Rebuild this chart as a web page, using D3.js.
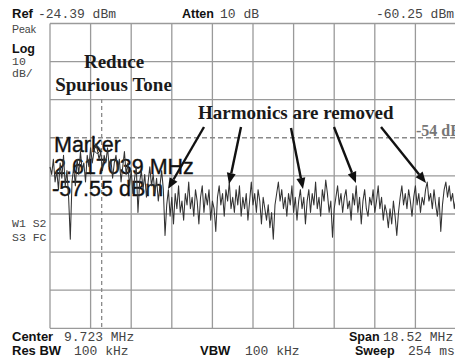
<!DOCTYPE html>
<html><head><meta charset="utf-8">
<script src="https://cdn.jsdelivr.net/npm/d3@7"></script>
<style>body{margin:0;background:#fff}svg{display:block}</style>
</head><body><svg id="c" width="455" height="362"></svg>
<script>
// ---- data ----
const refLevelDbm = -24.39;
const dbPerDiv = 10;
const yDivisions = 8;
const centerMHz = 9.723;
const spanMHz = 18.52;
const xDivisions = 10;
const displayLineDbm = -54.39;
const markerMHz = 2.617039;
const markerDbm = -57.55;
const markerLineMHz = 2.82;
const traceDbm = [
 -62,-64,-60,-66,-63,-68,-61,-65,-59,-67,-63,-70,-81,-66,-62,-67,-60,-64,-58,-63,
 -61,-66,-59,-62,-57,-61,-58,-56,-57.55,-60,-58,-63,-59,-61,-57,-62,-60,-65,-61,-59,
 -63,-60,-66,-62,-58,-64,-61,-67,-63,-69,-65,-62,-74,-66,-63,-68,-64,-70,-66,-62,
 -67,-64,-69,-65,-71,-67,-63,-68,-80,-72,-68,-75,-70,-77,-69,-73,-67,-74,-71,-76,
 -69,-72,-66,-73,-70,-75,-68,-71,-77,-70,-67,-74,-69,-72,-68,-76,-71,-73,-79,-70,
 -67,-72,-69,-75,-68,-71,-66,-73,-70,-74,-68,-72,-67,-75,-70,-73,-69,-76,-71,-66,
 -72,-69,-74,-68,-71,-77,-70,-73,-76,-72,-78,-74,-81,-72,-69,-66,-71,-68,-73,-70,
 -75,-69,-72,-67,-74,-70,-76,-71,-68,-73,-70,-77,-71,-68,-74,-69,-72,-66,-73,-70,
 -75,-68,-71,-65.5,-69,-74,-71,-80.5,-73,-70,-67,-72,-69,-74,-70,-68,-73,-71,-76,-69,
 -72,-67,-74,-70,-77,-71,-68,-73,-75,-70,-72,-68,-74,-71,-67,-73,-70,-76,-72,-74,
 -78,-73,-77,-71,-75,-80,-74,-70,-67,-72,-69,-73,-68,-71,-75,-70,-67,-72,-69,-74,
 -70,-72,-68,-66,-71,-69,-73,-68,-72,-75,-70,-79,-72,-68,-66,-70,-67,-71,-69,-73,-70
];
const topLabels = ["Ref", "-24.39 dBm", "Atten", "10 dB", "-60.25 dBm"];
const sideLabels = ["Peak", "Log", "10", "dB/", "W1 S2", "S3 FC"];
const bottomLabels = ["Center", "9.723 MHz", "Res BW", "100 kHz", "VBW", "100 kHz", "Span", "18.52 MHz", "Sweep", "254 ms"];
const annotations = ["Reduce", "Spurious Tone", "Harmonics are removed", "-54 dB"];
const markerLines = ["Marker", "2.617039 MHz", "-57.55 dBm"];

// ---- drawing ----
const svg = d3.select("#c");
svg.append("rect").attr("width",455).attr("height",362).attr("fill","#fff");
const L = 50, R = 456, T = 23.5, B = 328.3;
const startMHz = centerMHz - spanMHz/2, stopMHz = centerMHz + spanMHz/2;
const x = d3.scaleLinear().domain([startMHz, stopMHz]).range([L, R]);
const y = d3.scaleLinear().domain([refLevelDbm - dbPerDiv*yDivisions, refLevelDbm]).range([B, T]);

const SANS = "'Liberation Sans', Arial, sans-serif";
const MONO = "'Liberation Mono', 'Courier New', monospace";
const SERIF = "'Liberation Serif', 'Times New Roman', serif";

// grid
const g = svg.append("g");
const xt = d3.range(xDivisions+1).map(i => startMHz + i*spanMHz/xDivisions);
const yt = d3.range(yDivisions+1).map(i => refLevelDbm - i*dbPerDiv);
g.selectAll(".vx").data(xt).join("line")
  .attr("x1", d=>x(d)).attr("x2", d=>x(d)).attr("y1", T).attr("y2", B)
  .attr("stroke", "#9a9a9a").attr("stroke-width", 1.3);
g.selectAll(".hy").data(yt.filter(v => Math.abs(v - displayLineDbm) > 0.5)).join("line")
  .attr("x1", L).attr("x2", R).attr("y1", d=>y(d)).attr("y2", d=>y(d))
  .attr("stroke", "#9a9a9a").attr("stroke-width", 1.3);

// display line
svg.append("line").attr("x1", L).attr("x2", R)
  .attr("y1", y(displayLineDbm)).attr("y2", y(displayLineDbm))
  .attr("stroke", "#8a8a8a").attr("stroke-width", 1.4).attr("stroke-dasharray", "5,3");

// marker dashed vertical
svg.append("line").attr("x1", x(markerLineMHz)).attr("x2", x(markerLineMHz))
  .attr("y1", 99).attr("y2", B)
  .attr("stroke", "#8a8a8a").attr("stroke-width", 1.3).attr("stroke-dasharray", "4,3");

function txt(s, px, py, font, size, weight, fill) {
  return svg.append("text").attr("x", px).attr("y", py).text(s)
    .attr("font-family", font).attr("font-size", size).attr("font-weight", weight||"normal")
    .attr("fill", fill||"#222");
}
txt(topLabels[0], 12, 18, SANS, 13, "bold", "#111");
txt(topLabels[1], 38, 18, MONO, 13, "normal", "#444");
txt(topLabels[2], 182, 18, SANS, 12.5, "bold", "#111");
txt(topLabels[3], 220, 18, MONO, 13, "normal", "#444");
txt(topLabels[4], 376, 18, MONO, 13, "normal", "#444");

txt(sideLabels[0], 12, 33, SANS, 10.5, "normal", "#444");
txt(sideLabels[1], 12, 53, SANS, 12.5, "bold", "#111");
txt(sideLabels[2], 12, 65, MONO, 11.5, "normal", "#444");
txt(sideLabels[3], 12, 77, MONO, 11.5, "normal", "#444");
txt(sideLabels[4], 12, 227, MONO, 11.5, "normal", "#444");
txt(sideLabels[5], 12, 241, MONO, 11.5, "normal", "#444");

txt(bottomLabels[0], 12, 341, SANS, 13, "bold", "#111");
txt(bottomLabels[1], 64, 341, MONO, 13, "normal", "#444");
txt(bottomLabels[2], 12, 355, SANS, 13, "bold", "#111");
txt(bottomLabels[3], 74, 355, MONO, 13, "normal", "#444");
txt(bottomLabels[4], 200, 355, SANS, 13, "bold", "#111");
txt(bottomLabels[5], 245, 355, MONO, 13, "normal", "#444");
txt(bottomLabels[6], 349, 341, SANS, 12.5, "bold", "#111");
txt(bottomLabels[7], 383, 341, MONO, 13, "normal", "#444");
txt(bottomLabels[8], 355, 355, SANS, 12.5, "bold", "#111");
txt(bottomLabels[9], 408, 355, MONO, 13, "normal", "#444");

// marker readout text
[[markerLines[0],54,152],[markerLines[1],54,174],[markerLines[2],52,196]].forEach(([s,px,py]) =>
  txt(s, px, py, SANS, 21.5, "normal", "#111").attr("stroke", "#111").attr("stroke-width", 0.35));

// trace
const stepMHz = spanMHz / (traceDbm.length - 1);
const line = d3.line().x((d,i) => x(startMHz + i*stepMHz)).y(d => y(d));
svg.append("path").datum(traceDbm).attr("d", line)
  .attr("fill", "none").attr("stroke", "#333").attr("stroke-width", 1.05)
  .attr("stroke-linejoin", "round");

// marker symbol
const mx = x(markerMHz), my = y(markerDbm);
svg.append("path").attr("d", `M${mx},${my-4}L${mx+4},${my}L${mx},${my+4}L${mx-4},${my}Z`)
  .attr("fill", "none").attr("stroke", "#333").attr("stroke-width", 1);

// annotations
txt(annotations[0], 114, 68, SERIF, 19, "bold", "#1a1a1a").attr("text-anchor", "middle");
txt(annotations[1], 113.5, 91, SERIF, 19, "bold", "#1a1a1a").attr("text-anchor", "middle");
txt(annotations[2], 198, 118.5, SERIF, 19, "bold", "#1a1a1a");
txt(annotations[3], 416, 136, SERIF, 16, "bold", "#777");

// arrows
const arrows = [[204,127,168,189],[241,127,229,184],[291,128,303,189],[334,127,356,183],[381,127,426,183]];
arrows.forEach(([x1,y1,x2,y2]) => {
  const a = Math.atan2(y2-y1, x2-x1);
  const len = 11, w = 4.5;
  const bx = x2 - len*Math.cos(a), by = y2 - len*Math.sin(a);
  svg.append("line").attr("x1", x1).attr("y1", y1).attr("x2", bx).attr("y2", by)
    .attr("stroke", "#111").attr("stroke-width", 2.4);
  const px = -Math.sin(a), py = Math.cos(a);
  svg.append("path").attr("d", `M${x2},${y2}L${bx+px*w},${by+py*w}L${bx-px*w},${by-py*w}Z`)
    .attr("fill", "#111");
});
</script></body></html>
